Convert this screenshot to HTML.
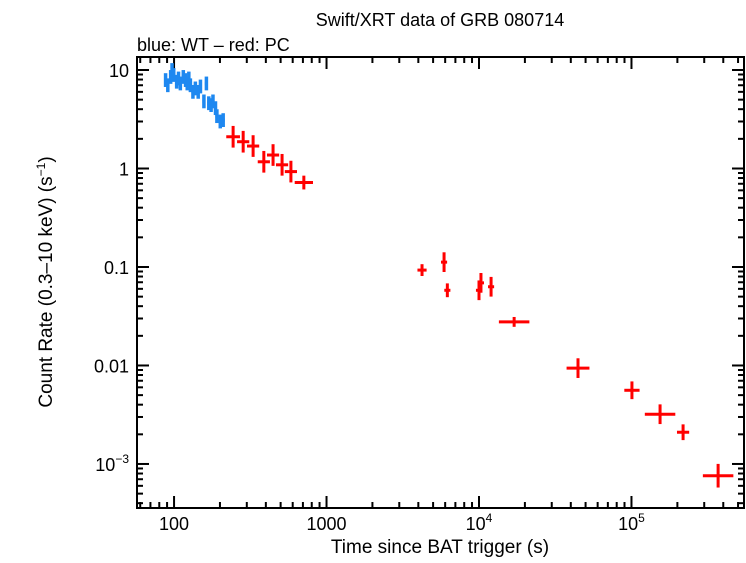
<!DOCTYPE html>
<html><head><meta charset="utf-8"><style>
body{margin:0;background:#fff}
svg text{font-family:"Liberation Sans",sans-serif;fill:#000}
</style></head><body>
<svg id="c" width="746" height="558" xmlns="http://www.w3.org/2000/svg">
<text x="440" y="26" font-size="18" text-anchor="middle">Swift/XRT data of GRB 080714</text>
<text x="137" y="51" font-size="18">blue: WT – red: PC</text>
<text x="440" y="553" font-size="19" text-anchor="middle">Time since BAT trigger (s)</text>
<text transform="translate(52,282) rotate(-90)" font-size="19" text-anchor="middle">Count Rate (0.3–10 keV) (s<tspan dy="-7" font-size="12">−1</tspan><tspan dy="7">)</tspan></text>
<g id="axes"></g><g id="marks"></g>
</svg>
<script>
const wtTime=[88,91,95,97,99.5,104,107,110,115,119,122,125,128,133,138,144,149,157,163,169,175,180,187,191,201,210];
const wtRate=[7.9,7.0,8.5,10,8.9,7.6,8.2,7.3,8.5,7.9,7.3,8.2,7.0,6.0,6.5,6.0,6.8,4.8,7.3,4.6,4.4,4.8,4.1,3.4,3.0,3.1];
const pcTime=[244,284,330,388,446,511,584,710,4230,5900,6200,10000,10300,12000,17000,44600,100700,154000,218000,370000];
const pcRate=[2.1,1.87,1.69,1.17,1.37,1.09,0.93,0.72,0.093,0.112,0.058,0.058,0.069,0.063,0.0277,0.0094,0.0056,0.0032,0.0021,0.00076];
const pcTimeErrDex=[0.045,0.04,0.04,0.04,0.04,0.04,0.04,0.06,0.03,0.02,0.02,0.02,0.02,0.02,0.1,0.075,0.05,0.1,0.04,0.1];
const pcRateErrDex=[0.11,0.11,0.11,0.11,0.11,0.11,0.11,0.07,0.06,0.1,0.07,0.1,0.1,0.1,0.05,0.1,0.09,0.1,0.08,0.12];
const wtTimeErrDex=0.01, wtRateErrDex=0.07;
const xTickVals=[100,1000,1e4,1e5];
const xTickLabels=["100","1000","10^4","10^5"];
const yTickVals=[10,1,0.1,0.01,0.001];
const yTickLabels=["10","1","0.1","0.01","10^-3"];

const L=137,R=744,T=57,B=508;
const xmin=1.757,xmax=5.738,ymin=-3.447,ymax=1.132;
const X=v=>L+(Math.log10(v)-xmin)/(xmax-xmin)*(R-L);
const Y=v=>B-(Math.log10(v)-ymin)/(ymax-ymin)*(B-T);
const NS="http://www.w3.org/2000/svg";
const ax=document.getElementById('axes'),mk=document.getElementById('marks');
function ln(p,x1,y1,x2,y2,c,w){const e=document.createElementNS(NS,'line');e.setAttribute('x1',x1);e.setAttribute('y1',y1);e.setAttribute('x2',x2);e.setAttribute('y2',y2);e.setAttribute('stroke',c);e.setAttribute('stroke-width',w);p.appendChild(e);return e;}
function lbl(p,x,y,s,anchor){const t=document.createElementNS(NS,'text');t.setAttribute('x',x);t.setAttribute('y',y);t.setAttribute('font-size','18');t.setAttribute('text-anchor',anchor);
 const m=s.split('^');t.textContent=m[0];if(m[1]){const ts=document.createElementNS(NS,'tspan');ts.setAttribute('dy','-8');ts.setAttribute('font-size','12');ts.textContent=m[1].replace('-','−');t.appendChild(ts);}
 p.appendChild(t);return t;}
const fr=document.createElementNS(NS,'rect');fr.setAttribute('x',L);fr.setAttribute('y',T);fr.setAttribute('width',R-L);fr.setAttribute('height',B-T);fr.setAttribute('fill','none');fr.setAttribute('stroke','#000');fr.setAttribute('stroke-width','2');


ax.appendChild(fr);
for(let d=1;d<=5;d++)for(let k=1;k<10;k++){const v=k*Math.pow(10,d);const x=X(v);if(x<L||x>R)continue;const len=k==1?12:6;
 ln(ax,x,B,x,B-len,'#000',2);ln(ax,x,T,x,T+len,'#000',2);}
for(let d=-4;d<=1;d++)for(let k=1;k<10;k++){const v=k*Math.pow(10,d);const y=Y(v);if(y<T||y>B)continue;const len=k==1?12:6;
 ln(ax,L,y,L+len,y,'#000',2);ln(ax,R,y,R-len,y,'#000',2);}
xTickVals.forEach((v,i)=>{const t=lbl(ax,X(v),B+22,xTickLabels[i],'middle');

});
yTickVals.forEach((v,i)=>{const t=lbl(ax,L-8,Y(v)+7,yTickLabels[i],'end');

});
function pt(t,r,tdx,rdx,c,w,name){const g=document.createElementNS(NS,'g');


 ln(g,X(t/Math.pow(10,tdx)),Y(r),X(t*Math.pow(10,tdx)),Y(r),c,w);
 ln(g,X(t),Y(r*Math.pow(10,rdx)),X(t),Y(r/Math.pow(10,rdx)),c,w);mk.appendChild(g);}
wtTime.forEach((t,i)=>pt(t,wtRate[i],wtTimeErrDex,wtRateErrDex,'#1e88f0',3.5,'wt-point'));
pcTime.forEach((t,i)=>pt(t,pcRate[i],pcTimeErrDex[i],pcRateErrDex[i],'#ff0000',3,'pc-point'));
</script>
</body></html>
